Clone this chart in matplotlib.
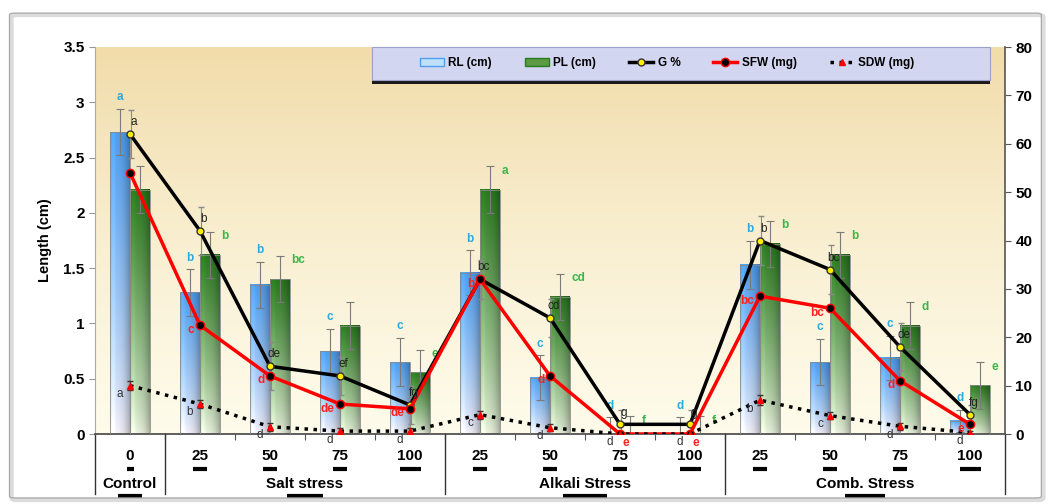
import numpy as np
import matplotlib
matplotlib.use("Agg")
import matplotlib.pyplot as plt
import matplotlib.transforms as mtransforms
from matplotlib import font_manager
from matplotlib.colors import to_rgb
from matplotlib.lines import Line2D
from matplotlib.patches import Patch, Rectangle, FancyBboxPatch

installed = {f.name for f in font_manager.fontManager.ttflist}
for fam in ["Liberation Sans Narrow", "DejaVu Sans Condensed", "Liberation Sans"]:
    if fam in installed:
        break
plt.rcParams["font.family"] = [fam, "DejaVu Sans"]

# ---- data ----
levels = ["0", "25", "50", "75", "100", "25", "50", "75", "100", "25", "50", "75", "100"]
groups = ["Control", "Salt stress", "Alkali Stress", "Comb. Stress"]
group_sizes = [1, 4, 4, 4]

rl = [2.73, 1.28, 1.35, 0.75, 0.65, 1.46, 0.51, 0.0, 0.0, 1.53, 0.65, 0.69, 0.12]
rl_err = [0.21, 0.21, 0.21, 0.20, 0.22, 0.20, 0.20, 0.15, 0.15, 0.22, 0.21, 0.20, 0.10]
pl = [2.21, 1.62, 1.40, 0.98, 0.56, 2.21, 1.24, 0.0, 0.0, 1.72, 1.62, 0.98, 0.44]
pl_err = [0.21, 0.21, 0.21, 0.21, 0.20, 0.21, 0.21, 0.16, 0.16, 0.21, 0.21, 0.21, 0.21]
g_pct = [62, 42, 14, 12, 6, 32, 24, 2, 2, 40, 34, 18, 4]
g_err = [5, 5, 5, 4, 4, 4, 4, 3, 3, 5, 5, 5, 2]
sfw = [54, 22.5, 12, 6.2, 5.2, 32, 12, 0, 0, 28.5, 26, 11, 2]
sdw = [10, 6.2, 1.5, 0.6, 0.6, 4, 1.3, 0, 0, 7, 3.8, 1.6, 0.3]
sdw_err = [1.0, 0.8, 0.8, 0.6, 0.6, 0.8, 0.7, 0.4, 0.4, 1.0, 0.8, 0.7, 0.4]

rl_let = ["a", "b", "b", "c", "c", "b", "c", "d", "d", "b", "c", "c", "d"]
pl_let = ["", "b", "bc", "", "e", "a", "cd", "f", "f", "b", "b", "d", "e"]
g_let = ["a", "b", "de", "ef", "fg", "bc", "cd", "g", "g", "b", "bc", "de", "fg"]
sfw_let = ["", "c", "d", "de", "de", "b", "d", "e", "e", "bc", "bc", "d", "e"]
sdw_let = ["a", "b", "d", "d", "d", "c", "d", "d", "d", "b", "c", "d", "d"]

x = np.arange(len(levels))
bw = 0.285


def grad_bar(ax, x0, w, h, top, bottom):
    if h <= 0:
        return
    t = np.linspace(0, 1, 80)[:, None, None] ** 0.8
    top = np.array(to_rgb(top))
    bottom = np.array(to_rgb(bottom))
    col = bottom + (top - bottom) * t
    s = np.linspace(0, 1, 24)
    shade = 1.0 - 0.28 * s ** 3 + 0.08 * np.exp(-((s - 0.15) / 0.1) ** 2)
    img = np.clip(col * shade[None, :, None], 0, 1)
    ax.imshow(img, extent=(x0, x0 + w, 0, h), origin="lower", aspect="auto",
              zorder=2, interpolation="bilinear")
    ax.add_patch(Rectangle((x0, 0), w, h, fill=False, edgecolor="#8a8a8a",
                           lw=0.6, zorder=3))


fig = plt.figure(figsize=(10.54, 5.04), dpi=100)
ax = fig.add_axes([95 / 1054, 1 - 434 / 504, 910 / 1054, 387 / 504])

# outer frame with soft shadow
fig.patches.append(FancyBboxPatch((0.011, 0.008), 0.979, 0.962,
                                  boxstyle="round,pad=0,rounding_size=0.004",
                                  transform=fig.transFigure, facecolor="none",
                                  edgecolor="#dcdcdc", lw=3, zorder=0))
fig.patches.append(FancyBboxPatch((0.009, 0.012), 0.979, 0.962,
                                  boxstyle="round,pad=0,rounding_size=0.004",
                                  transform=fig.transFigure, facecolor="none",
                                  edgecolor="#a8a8a8", lw=0.9, zorder=0))

# plot-area background gradient
bg = np.linspace(0, 1, 100)[:, None, None]
c_top = np.array(to_rgb("#f1dcaa"))
c_bot = np.array(to_rgb("#fefbea"))
ax.imshow(c_bot + (c_top - c_bot) * bg ** 1.3, extent=(0, 1, 0, 1),
          transform=ax.transAxes, origin="lower", aspect="auto", zorder=0)

for i in x:
    grad_bar(ax, i - bw, bw, rl[i], "#4f9ff0", "#f9f5fd")
    grad_bar(ax, i, bw, pl[i], "#2a7a1e", "#eef6e2")

ax.errorbar(x - bw / 2, rl, yerr=rl_err, fmt="none", ecolor="#7a7a7a",
            elinewidth=0.8, capsize=3, capthick=0.8, zorder=4)
ax.errorbar(x + bw / 2, pl, yerr=pl_err, fmt="none", ecolor="#7a7a7a",
            elinewidth=0.8, capsize=3, capthick=0.8, zorder=4)

ax.set_xlim(-0.5, len(levels) - 0.5)
ax.set_ylim(0, 3.5)
ax.set_yticks(np.arange(0, 3.51, 0.5))
ax.set_yticklabels(["0", "0.5", "1", "1.5", "2", "2.5", "3", "3.5"],
                   fontsize=11, fontweight="bold")
ax.set_ylabel("Length (cm)", fontsize=10.5, fontweight="bold", labelpad=8)
ax.set_xticks(x[:-1] + 0.5)
ax.set_xticklabels([])
ax.tick_params(axis="x", length=4, color="#555555")
ax.tick_params(axis="y", length=4, color="#999999")
for side in ["top", "right"]:
    ax.spines[side].set_visible(False)
ax.spines["left"].set_color("#aaaaaa")
ax.spines["bottom"].set_color("#444444")
ax.spines["bottom"].set_linewidth(1.2)

# letters on bars
for i in x:
    ax.text(i - bw / 2, rl[i] + rl_err[i] + 0.05, rl_let[i], color="#29abe2",
            fontsize=8.5, fontweight="bold", ha="center", va="bottom", zorder=6)
    if pl_let[i]:
        ax.text(i + bw + 0.02, pl[i] + pl_err[i] - 0.04, pl_let[i],
                color="#39b54a", fontsize=8.5, fontweight="bold", ha="left",
                va="center", zorder=6)

# category table below axis
trans = mtransforms.blended_transform_factory(ax.transData, ax.transAxes)
for i in x:
    ax.text(i, -0.058, levels[i], transform=trans, ha="center", va="center",
            fontsize=11, fontweight="bold")
    hw = 0.05 * len(levels[i])
    ax.plot([i - hw, i + hw], [-0.09, -0.09], transform=trans, color="black",
            lw=3, clip_on=False, solid_capstyle="butt")
edges = np.concatenate([[0], np.cumsum(group_sizes)]) - 0.5
for e in edges:
    ax.plot([e, e], [0, -0.155], transform=trans, color="#333333", lw=1.0,
            clip_on=False)
for k, name in enumerate(groups):
    mid = (edges[k] + edges[k + 1]) / 2
    ax.text(mid, -0.128, name, transform=trans, ha="center", va="center",
            fontsize=11, fontweight="bold")
    hw = 0.024 * len(name)
    ax.plot([mid - hw, mid + hw], [-0.16, -0.16], transform=trans,
            color="black", lw=3, clip_on=False, solid_capstyle="butt")

# secondary axis for G %, SFW and SDW
ax2 = ax.twinx()
ax2.set_ylim(0, 80)
ax2.set_yticks(np.arange(0, 81, 10))
ax2.set_yticklabels([str(v) for v in range(0, 81, 10)], fontsize=11,
                    fontweight="bold")
ax2.tick_params(axis="y", length=4, color="#555555")
for side in ["top", "left", "bottom"]:
    ax2.spines[side].set_visible(False)
ax2.spines["right"].set_color("#555555")
ax2.spines["right"].set_linewidth(1.2)

ax2.errorbar(x + 0.02, g_pct, yerr=g_err, fmt="none", ecolor="#8a8a8a",
             elinewidth=0.8, capsize=2.5, zorder=3)
ax2.errorbar(x, sdw, yerr=sdw_err, fmt="none", ecolor="#333333",
             elinewidth=0.8, capsize=2.5, zorder=3)
ax2.plot(x, g_pct, color="black", lw=2.5, marker="o", ms=5,
         markerfacecolor="#ffee00", markeredgecolor="#333333", zorder=5)
ax2.plot(x, sfw, color="#ff0000", lw=2.5, marker="o", ms=6,
         markerfacecolor="black", markeredgecolor="#ff0000", zorder=5)
ax2.plot(x, sdw, color="black", lw=2.5, ls=(0, (1, 1.6)), marker="^", ms=5,
         markerfacecolor="#ff0000", markeredgecolor="#ff0000", zorder=5)

for i in x:
    ax2.text(i + 0.05, g_pct[i] + 1.2, g_let[i], color="#222222", fontsize=8.5,
             ha="center", va="bottom", zorder=6)
    if sfw_let[i] and sfw[i] > 0:
        ax2.text(i - 0.08, sfw[i] + 0.3, sfw_let[i], color="#ff2020",
                 fontsize=8.5, fontweight="bold", ha="right", va="top", zorder=6)
    elif sfw_let[i]:
        ax2.text(i + 0.04, -0.6, sfw_let[i], color="#ff2020", fontsize=8.5,
                 fontweight="bold", ha="left", va="top", zorder=6)
    ax2.text(i - 0.1, sdw[i] - 0.5, sdw_let[i], color="#333333", fontsize=8.5,
             ha="right", va="top", zorder=6)

# legend strip: bluish band with dark shadow underneath
ax2.add_patch(Rectangle((0.304, 0.905), 0.68, 0.012, transform=ax2.transAxes,
                        facecolor="#1a1a1a", edgecolor="none", zorder=9,
                        clip_on=False))
ax2.add_patch(Rectangle((0.304, 0.915), 0.68, 0.085, transform=ax2.transAxes,
                        facecolor="#d3d6f0", edgecolor="#9aa0c8", lw=0.8,
                        zorder=9, clip_on=False))

handles = [
    Patch(facecolor="#bfe0fb", edgecolor="#4f9ff0", lw=1),
    Patch(facecolor="#5c9a45", edgecolor="#2a7a1e", lw=1),
    Line2D([], [], color="black", lw=2.5, marker="o", ms=5,
           markerfacecolor="#ffee00", markeredgecolor="#333333"),
    Line2D([], [], color="#ff0000", lw=2.5, marker="o", ms=6,
           markerfacecolor="black", markeredgecolor="#ff0000"),
    Line2D([], [], color="black", lw=2.5, ls=(0, (1, 1.6)), marker="^", ms=5,
           markerfacecolor="#ff0000", markeredgecolor="#ff0000"),
]
labels = ["RL (cm)", "PL (cm)", "G %", "SFW (mg)", "SDW (mg)"]
leg = ax2.legend(handles, labels, ncol=5, loc="center left",
                 bbox_to_anchor=(0.352, 0.958), frameon=False,
                 handlelength=2.0, handletextpad=0.4, columnspacing=2.8,
                 borderaxespad=0, prop={"weight": "bold", "size": 8.5})
leg.set_zorder(10)

fig.savefig("out.png", dpi=100)
